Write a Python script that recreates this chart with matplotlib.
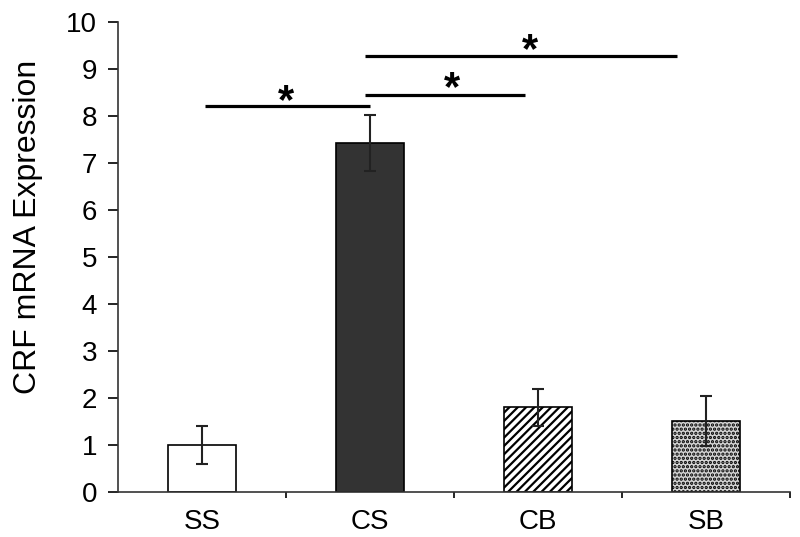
import matplotlib
matplotlib.use("Agg")
import matplotlib.pyplot as plt

plt.rcParams['font.family'] = ['Liberation Sans', 'DejaVu Sans']
plt.rcParams['hatch.linewidth'] = 1.6

groups = ["SS", "CS", "CB", "SB"]
means = [1.0, 7.43, 1.80, 1.51]
errs = [0.41, 0.60, 0.40, 0.54]
faces = ["white", "#333333", "white", "#d4d4d4"]
hatches = [None, None, "////", "...."]

# significance brackets: (x start, x end, height), star position
sig_lines = [(0.02, 1.0, 8.21), (0.97, 1.92, 8.45), (0.97, 2.83, 9.28)]
stars = [(0.50, 8.30), (1.49, 8.57), (1.95, 9.39)]

fig = plt.figure(figsize=(8, 5.37), dpi=100)
ax = fig.add_axes([0.1475, 0.0838, 0.8400, 0.8752])

x = list(range(len(groups)))
bars = ax.bar(x, means, width=0.4, color=faces, edgecolor="black", linewidth=1.2)
for b, h in zip(bars, hatches):
    if h:
        b.set_hatch(h)
ax.errorbar(x, means, yerr=errs, fmt="none", ecolor="#222222", elinewidth=1.5,
            capsize=4, capthick=1.5)

for x0, x1, y in sig_lines:
    ax.plot([x0, x1], [y, y], color="black", lw=2.3, solid_capstyle="butt")
for sx, sy in stars:
    ax.text(sx, sy, "*", ha="center", va="center", fontsize=30, fontweight="bold")

ax.set_xlim(-0.5, 3.5)
ax.set_ylim(0, 10)
ax.set_yticks(range(0, 11))
ax.set_xticks(x)
ax.set_xticklabels(groups)
ax.set_xticks([0.5, 1.5, 2.5, 3.5], minor=True)
ax.tick_params(axis="x", which="major", length=0, labelsize=20, pad=12)
ax.tick_params(axis="x", which="minor", length=4, width=1.2, direction="out")
ax.tick_params(axis="y", length=7, width=1.2, labelsize=20, pad=8)
ax.set_ylabel("CRF mRNA Expression", fontsize=23)
ax.yaxis.set_label_coords(-0.112, 0.565)

for s in ["top", "right"]:
    ax.spines[s].set_visible(False)
for s in ["left", "bottom"]:
    ax.spines[s].set_linewidth(1.2)
    ax.spines[s].set_color("#333333")

fig.savefig("out.png", dpi=100)
